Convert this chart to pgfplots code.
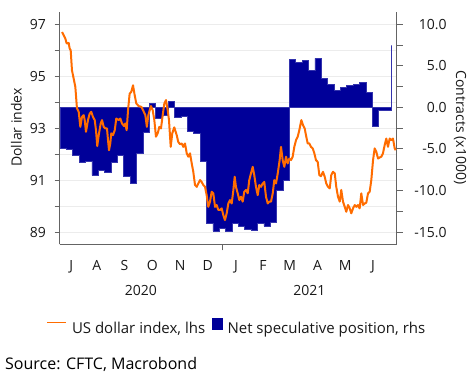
\documentclass[border=0pt]{standalone}
\usepackage{pgfplots}
\pgfplotsset{compat=1.18}
\usepackage{fontspec}
\setmainfont{Open Sans}
\definecolor{dxy}{RGB}{255,108,0}
\definecolor{navybar}{RGB}{0,0,153}
\definecolor{axisgray}{RGB}{100,100,100}
\definecolor{gridgray}{RGB}{236,236,236}
\definecolor{textcol}{RGB}{25,25,25}
\begin{document}
\begin{tikzpicture}[x=1pt,y=1pt]
\useasboundingbox (0,0) rectangle (474,380);
\pgfplotsset{every axis/.append style={scale only axis, width=337.1pt, height=232.2pt,
  at={(59.6pt,135.5pt)}, anchor=south west, xmin=5.62, xmax=376.0,
  tick label style={font=\fontsize{14}{16}\selectfont, text=textcol, inner sep=0pt}}}
% A: grid and month labels
\begin{axis}[ymin=88.52, ymax=97.46,
  ytick={89,90,...,97}, yticklabels={}, ymajorgrids,
  major grid style={gridgray, line width=1pt},
  xtick={18.5,46.5,77,107.5,138,168.5,199.5,229,258.5,289,319.5,350},
  xticklabels={J,A,S,O,N,D,J,F,M,A,M,J},
  major tick length=0pt, tick style={draw=none},
  axis line style={draw=none},
  xticklabel style={anchor=base, yshift=-26.2pt}]
\end{axis}
% B: net speculative position (rhs)
\begin{axis}[ymin=-16.50, ymax=11.44,
  axis y line*=right, axis x line*=bottom,
  xtick={184}, xticklabels={},
  ytick={-15,-10,...,10}, minor ytick={-12.5,-7.5,...,7.5},
  tick align=outside, major tick length=6pt, minor tick length=6pt,
  axis line style={axisgray, line width=0.9pt},
  tick style={axisgray, line width=0.9pt},
  yticklabel style={anchor=east, xshift=44pt},
  /pgf/number format/fixed, /pgf/number format/fixed zerofill,
  /pgf/number format/precision=1, /pgf/number format/assume math mode=true,
  ylabel={Contracts (x1000)},
  every axis y label/.style={at={(axis description cs:1.1878,0.504)}, rotate=-90, anchor=center,
    font=\fontsize{14}{16}\selectfont, text=textcol}]
\addplot[const plot, fill=navybar, draw=navybar!80!white, line width=0.5pt] coordinates {
(6,-4.9) (13,-5.0) (20,-5.77) (27,-6.65) (34,-6.5) (41,-8.17) (48,-7.57) (55,-7.77)
(62,-6.6) (69,-5.77) (76,-8.25) (83,-9.15) (90,-5.57) (97,-3.0) (104,0.44) (111,-1.36)
(118,-1.0) (125,0.72) (132,-1.16) (139,-1.1) (146,-2.85) (153,-3.17) (160,-6.49) (167,-13.98)
(174,-14.87) (181,-14.6) (188,-14.87) (195,-13.9) (202,-14.35) (209,-14.7) (216,-14.8) (223,-14.0)
(230,-14.3) (237,-13.8) (244,-9.98) (251,-8.78) (258,5.77) (265,5.37) (272,5.65) (279,4.45)
(286,5.89) (293,3.45) (300,2.76) (307,2.04) (314,2.37) (321,2.64) (328,2.73) (335,2.97)
(342,1.77) (349,-2.28) (356,-0.36) (363,-0.36) (370,7.45)
} \closedcycle;
\end{axis}
% C: US dollar index (lhs)
\begin{axis}[ymin=88.52, ymax=97.46,
  axis y line*=left, axis x line*=bottom,
  ytick={89,90,...,97}, yticklabels={89,,91,,93,,95,,97},
  xtick=\empty, minor xtick={31,62,92,123,153,215,243,274,304,335,365},
  tick align=outside, major tick length=5pt, minor tick length=2.5pt,
  axis line style={axisgray, line width=0.9pt},
  tick style={axisgray, line width=0.9pt},
  yticklabel style={anchor=east, xshift=-8.6pt},
  ylabel={Dollar index},
  every axis y label/.style={at={(axis description cs:-0.128,0.504)}, rotate=90, anchor=center,
    font=\fontsize{14}{16}\selectfont, text=textcol},
  legend columns=2,
  legend style={draw=none, fill=none, inner sep=0pt, at={(axis description cs:-0.0403,-0.3523)}, anchor=west,
    font=\fontsize{15}{17}\selectfont, text=textcol, nodes={inner sep=0pt},
    /tikz/every even column/.append style={column sep=6.6pt},
    /tikz/every odd column/.append style={column sep=5pt}}]
\addplot[dxy, line width=2pt, line join=round,
  legend image code/.code={\draw[dxy, line width=1.8pt] (0pt,6pt) -- (19pt,6pt);}] coordinates {
(8.3,96.70) (11.9,96.45) (13.4,96.26) (15.6,96.28) (16.7,96.06) (17.8,96.0) (19.2,95.23) (21.4,94.85)
(22.9,94.59) (24.7,93.76) (26.6,93.63) (28.4,93.05) (30.2,93.43) (32.1,93.5) (33.2,93.31) (34.6,92.86)
(36.8,93.31) (38.7,93.56) (40.4,93.63) (42.3,93.43) (44.2,93.31) (45.6,92.92) (47.0,92.31) (48.6,92.73)
(50.8,93.18) (52.2,93.31) (54.1,93.05) (55.8,92.99) (57.7,92.99) (58.8,92.54) (59.9,92.15) (61.3,92.41)
(62.4,92.80) (64.3,92.73) (66.2,92.92) (67.9,93.37) (70.6,93.31) (72.3,93.37) (74.2,93.18) (76.4,93.08)
(77.8,93.18) (79.3,92.92) (80.8,93.69) (82.6,94.33) (84.4,94.40) (86.3,94.65) (88.1,94.27) (89.9,93.95)
(92.5,93.85) (95.4,93.82) (97.3,93.69) (99.8,93.50) (101.5,93.05) (103.1,93.50) (106.0,93.85) (107.9,93.69)
(109.7,93.31) (111.5,92.67) (113.4,92.80) (115.2,93.05) (117.0,92.99) (118.9,93.50) (120.7,93.95) (122.5,94.08)
(124.4,93.69) (125.8,93.31) (127.7,92.28) (129.4,92.80) (131.6,93.03) (134.3,92.73) (136.0,92.47) (137.9,92.38)
(139.8,92.41) (141.5,92.28) (143.4,92.41) (145.3,92.03) (147.0,91.90) (148.9,92.03) (150.8,91.64) (152.5,91.32)
(154.4,90.81) (156.3,90.74) (158.0,90.87) (159.9,91.00) (161.7,90.93) (163.5,90.81) (165.4,90.74) (167.2,90.42)
(169.0,89.97) (170.9,90.17) (172.7,90.55) (174.5,90.49) (176.4,89.97) (178.2,90.04) (180.0,89.85) (181.9,89.85)
(183.7,89.91) (185.5,89.65) (187.3,89.46) (189.2,89.72) (191.0,90.10) (192.8,90.23) (194.7,90.10) (196.5,90.60)
(198.0,91.13) (199.4,90.74) (201.3,90.49) (203.1,90.23) (204.9,90.36) (206.8,90.17) (208.5,90.55) (210.4,90.62)
(212.3,90.49) (214.0,91.00) (215.9,91.26) (217.8,91.51) (219.5,91.19) (221.4,90.74) (223.3,90.42) (225.0,90.81)
(226.9,90.74) (228.8,90.87) (230.5,90.93) (232.4,90.36) (234.3,90.10) (236.0,90.17) (237.9,90.17) (239.8,90.49)
(241.5,91.00) (243.4,90.87) (245.3,91.26) (247.4,91.77) (248.9,92.28) (250.7,91.77) (252.5,91.51) (254.4,91.90)
(256.2,91.64) (258.0,91.83) (259.9,91.77) (261.7,91.90) (263.5,92.28) (265.4,92.54) (267.2,92.67) (269.0,92.92)
(271.2,93.31) (273.0,93.12) (274.9,92.99) (276.3,92.73) (278.2,92.41) (280.0,92.41) (281.8,92.28) (283.7,92.22)
(285.5,92.03) (287.3,91.77) (289.2,91.70) (291.0,91.19) (292.8,91.15) (295.0,91.32) (296.9,91.13) (298.6,90.87)
(300.5,90.74) (302.4,90.68) (304.1,91.19) (306.0,91.32) (307.9,91.26) (309.6,90.74) (311.5,90.36) (313.4,90.17)
(315.1,90.62) (317.0,90.17) (318.9,89.97) (320.6,89.78) (322.5,90.04) (324.4,89.91) (326.1,89.72) (328.0,89.91)
(329.9,90.04) (331.6,89.97) (333.5,90.04) (335.3,89.91) (337.1,90.49) (339.0,90.04) (340.8,90.10) (342.6,90.13)
(344.5,90.49) (346.3,90.55) (348.1,91.00) (350.0,91.77) (351.8,92.22) (353.6,92.09) (355.5,91.83) (357.3,91.87)
(359.1,91.90) (360.9,92.03) (362.8,92.35) (364.6,92.60) (366.4,92.28) (368.3,92.60) (370.1,92.54) (371.9,92.60)
(373.8,92.22) (374.9,92.15)
};
\addlegendentry{US dollar index, lhs}
\addlegendimage{legend image code/.code={\fill[navybar] (0pt,-0.5pt) rectangle (10.4pt,10.5pt);}}
\addlegendentry{Net speculative position, rhs}
\end{axis}
\node[anchor=base, inner sep=0pt, font=\fontsize{14}{16}\selectfont, text=textcol] at (140.8,84.6) {2020};
\node[anchor=base, inner sep=0pt, font=\fontsize{14}{16}\selectfont, text=textcol] at (309.3,84.6) {2021};
\node[anchor=base west, inner sep=0pt, font=\fontsize{16}{19}\selectfont, text=black] at (5,10.7) {Source: CFTC, Macrobond};
\end{tikzpicture}
\end{document}
